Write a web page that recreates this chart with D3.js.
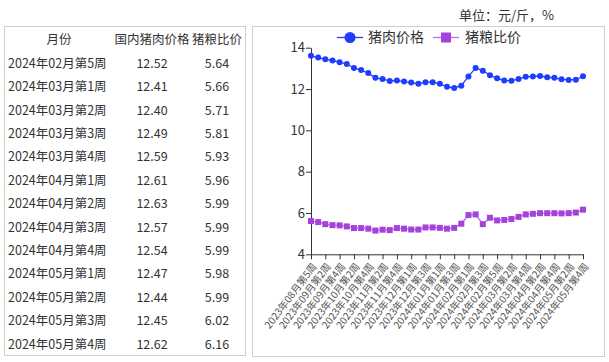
<!DOCTYPE html>
<html><head><meta charset="utf-8">
<script src="https://cdn.jsdelivr.net/npm/d3@7"></script>
<style>body{margin:0;background:#fff;} svg text{font-family:"Noto Sans CJK SC","Noto Sans",sans-serif;}</style>
</head><body><svg id="c" width="609" height="362"></svg>
<script>
const weeks = ["2023年08月第5周","2023年09月第1周","2023年09月第2周","2023年09月第3周","2023年09月第4周",
"2023年10月第1周","2023年10月第2周","2023年10月第3周","2023年10月第4周",
"2023年11月第1周","2023年11月第2周","2023年11月第3周","2023年11月第4周","2023年11月第5周",
"2023年12月第1周","2023年12月第2周","2023年12月第3周","2023年12月第4周",
"2024年01月第1周","2024年01月第2周","2024年01月第3周","2024年01月第4周",
"2024年02月第1周","2024年02月第2周","2024年02月第3周","2024年02月第4周","2024年02月第5周",
"2024年03月第1周","2024年03月第2周","2024年03月第3周","2024年03月第4周",
"2024年04月第1周","2024年04月第2周","2024年04月第3周","2024年04月第4周",
"2024年05月第1周","2024年05月第2周","2024年05月第3周","2024年05月第4周"];
const porkPrice = [13.61,13.52,13.44,13.38,13.30,13.21,13.02,12.92,12.77,12.54,12.48,12.39,12.41,12.36,12.31,12.25,12.33,12.33,12.25,12.11,12.05,12.16,12.61,13.02,12.89,12.67,
12.52,12.41,12.40,12.49,12.59,12.61,12.63,12.57,12.54,12.47,12.44,12.45,12.62];
const ratio = [5.61,5.56,5.46,5.41,5.40,5.35,5.27,5.27,5.24,5.15,5.19,5.17,5.27,5.24,5.20,5.20,5.30,5.30,5.28,5.24,5.28,5.48,5.90,5.93,5.46,5.77,
5.64,5.66,5.71,5.81,5.93,5.96,5.99,5.99,5.99,5.98,5.99,6.02,6.16];
const tableHeaders = ["月份","国内猪肉价格","猪粮比价"];
const tableStart = 26;
const yTicks = [4,6,8,10,12,14];
const seriesNames = ["猪肉价格","猪粮比价"];
const unitText = "单位：元/斤，%";

const svg = d3.select("#c");
const BLUE = "#1f3dff", PURPLE = "#a443dc", PURPLE_LINE = "#b86ceb";

// ---- table ----
svg.append("rect").attr("x",4.5).attr("y",26.5).attr("width",241).attr("height",329)
  .attr("fill","none").attr("stroke","#cfcfcf");
const colX = [59,152,217];
const rowY = i => 40 + 23.4*i;
const tg = svg.append("g").attr("fill","#333").style("font-size","12.5px");
tableHeaders.forEach((h,j)=>{
  tg.append("text").attr("x",colX[j]).attr("y",rowY(0)).attr("dy","0.35em")
    .attr("text-anchor","middle").text(h);
});
weeks.slice(tableStart).forEach((w,i)=>{
  const k = tableStart+i;
  tg.append("text").attr("x",8).attr("y",rowY(i+1)).attr("dy","0.35em").text(w);
  tg.append("text").attr("x",colX[1]).attr("y",rowY(i+1)).attr("dy","0.35em").attr("text-anchor","middle").text(porkPrice[k].toFixed(2));
  tg.append("text").attr("x",colX[2]).attr("y",rowY(i+1)).attr("dy","0.35em").attr("text-anchor","middle").text(ratio[k].toFixed(2));
});

// ---- chart ----
svg.append("text").attr("x",459).attr("y",15).attr("dy","0.35em").attr("fill","#333")
  .style("font-size","13px").text(unitText);
svg.append("rect").attr("x",252.5).attr("y",26.5).attr("width",352).attr("height",330)
  .attr("fill","none").attr("stroke","#cfcfcf");

const x = d3.scalePoint().domain(weeks).range([311,583]);
const y = d3.scaleLinear().domain([4,14]).range([254.3,47.7]);

const ya = svg.append("g").attr("transform","translate(311,0)")
  .call(d3.axisLeft(y).tickValues(yTicks).tickSize(5).tickSizeOuter(0));
ya.select(".domain").attr("stroke","#333");
ya.selectAll(".tick line").attr("stroke","#333");
ya.selectAll(".tick text").attr("fill","#333").style("font-size","13px").style("font-family",'"Noto Sans CJK SC",sans-serif').attr("x",-6);

const xa = svg.append("g").attr("transform","translate(0,254.3)")
  .call(d3.axisBottom(x).tickValues(weeks.filter((d,i)=>i%2===0)).tickSize(5).tickSizeOuter(0));
xa.select(".domain").attr("stroke","#333");
xa.selectAll(".tick line").attr("stroke","#333");
xa.selectAll(".tick text").attr("fill","#555").style("font-size","10px").style("font-family",'"Noto Sans CJK SC",sans-serif')
  .attr("x",0).attr("y",0).attr("dy","0.35em").attr("text-anchor","end")
  .attr("transform","translate(3,10) rotate(-53)");

const line = d3.line().x((d,i)=>x(weeks[i])).y(d=>y(d));
svg.append("path").datum(porkPrice).attr("d",line).attr("fill","none").attr("stroke",BLUE).attr("stroke-width",1.3);
svg.append("path").datum(ratio).attr("d",line).attr("fill","none").attr("stroke",PURPLE_LINE).attr("stroke-width",1.3);
svg.append("g").selectAll("circle").data(porkPrice).join("circle")
  .attr("cx",(d,i)=>x(weeks[i])).attr("cy",d=>y(d)).attr("r",3).attr("fill",BLUE);
svg.append("g").selectAll("rect").data(ratio).join("rect")
  .attr("x",(d,i)=>x(weeks[i])-3).attr("y",d=>y(d)-3).attr("width",6).attr("height",6).attr("fill",PURPLE);

// ---- legend ----
const lg = svg.append("g").style("font-size","14px");
lg.append("line").attr("x1",337).attr("x2",363).attr("y1",37.5).attr("y2",37.5).attr("stroke",BLUE).attr("stroke-width",1.3);
lg.append("circle").attr("cx",350).attr("cy",37.5).attr("r",5.5).attr("fill",BLUE);
lg.append("text").attr("x",368).attr("y",37.5).attr("dy","0.35em").attr("fill","#333").text(seriesNames[0]);
lg.append("line").attr("x1",433).attr("x2",459).attr("y1",37.5).attr("y2",37.5).attr("stroke",PURPLE_LINE).attr("stroke-width",1.3);
lg.append("rect").attr("x",441).attr("y",32.5).attr("width",10).attr("height",10).attr("fill",PURPLE);
lg.append("text").attr("x",465).attr("y",37.5).attr("dy","0.35em").attr("fill","#333").text(seriesNames[1]);
</script></body></html>
